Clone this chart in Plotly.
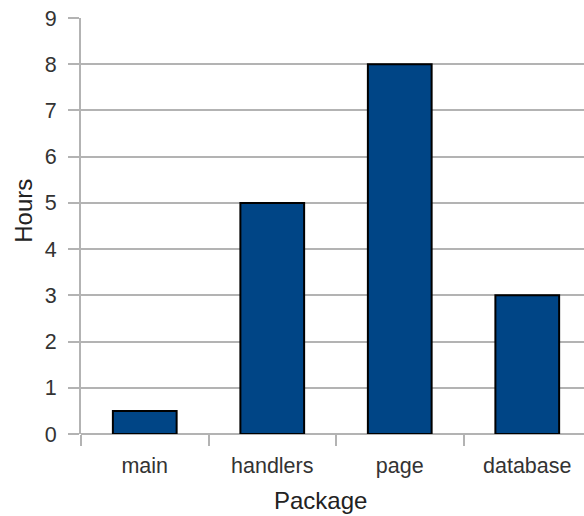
import plotly.graph_objects as go

packages = ["main", "handlers", "page", "database"]
hours = [0.5, 5, 8, 3]
y_ticks = list(range(0, 10))

grid = "#b3b3b3"
font_family = "Liberation Sans, Arial, sans-serif"
tick_size = 21.5
title_size = 24

fig = go.Figure(
    go.Bar(
        x=packages,
        y=hours,
        width=0.5,
        marker=dict(color="#004586", line=dict(color="#000000", width=2)),
    )
)

fig.update_layout(
    width=584,
    height=516,
    margin=dict(l=81, r=0, t=18, b=82),
    paper_bgcolor="white",
    plot_bgcolor="white",
    showlegend=False,
    font=dict(family=font_family, size=tick_size, color="#333333"),
    xaxis=dict(
        range=[-0.5, 3.445],
        tickson="boundaries",
        ticks="outside",
        ticklen=11,
        tickwidth=2,
        tickcolor=grid,
        showgrid=False,
        showline=False,
        tickfont=dict(size=tick_size, color="#333333"),
        ticklabelstandoff=16,
        fixedrange=True,
    ),
    yaxis=dict(
        range=[0, 9],
        tickvals=y_ticks,
        ticks="outside",
        ticklen=11,
        tickwidth=2,
        tickcolor=grid,
        showgrid=True,
        gridcolor=grid,
        gridwidth=2,
        showline=True,
        linecolor=grid,
        linewidth=2,
        zeroline=True,
        zerolinecolor=grid,
        zerolinewidth=2,
        tickfont=dict(size=tick_size, color="#333333"),
        ticklabelstandoff=7,
        fixedrange=True,
    ),
    annotations=[
        dict(
            text="Package",
            xref="paper", yref="paper",
            x=0.477, y=-0.159,
            xanchor="center", yanchor="middle",
            showarrow=False,
            font=dict(size=title_size, color="#222222"),
        ),
        dict(
            text="Hours",
            xref="paper", yref="paper",
            x=-0.115, y=0.537,
            xanchor="center", yanchor="middle",
            textangle=-90,
            showarrow=False,
            font=dict(size=title_size, color="#222222"),
        ),
    ],
)

fig.write_html("out.html")
